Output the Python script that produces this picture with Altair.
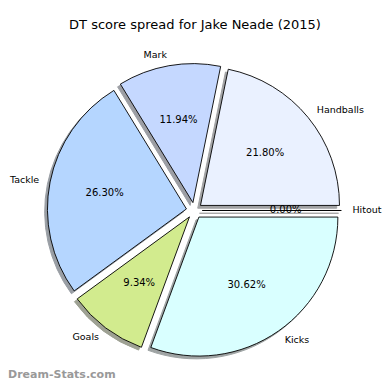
import altair as alt
import pandas as pd

# ---- data ----
categories = ["Hitout", "Handballs", "Mark", "Tackle", "Goals", "Kicks"]
values = [0.00, 21.80, 11.94, 26.30, 9.34, 30.62]
colors = ["#ffffff", "#eaf1ff", "#c5d8ff", "#b5d6ff", "#d2eb8e", "#d9ffff"]
title_text = "DT score spread for Jake Neade (2015)"
watermark = "Dream-Stats.com"


def darken(h, f=0.3):
    h = h.lstrip("#")
    r, g, b = (int(h[i:i + 2], 16) for i in (0, 2, 4))
    return "#%02x%02x%02x" % (int(r * f), int(g * f), int(b * f))


shadow_colors = [darken(c) for c in colors]

df = pd.DataFrame({"stat": categories, "value": values})

PI = 3.141592653589793
EXPLODE = 0.0576
R_PX = 139
LABEL_DIST = 1.08

W, H = 374, 374
xscale = alt.Scale(domain=[-1.3403, 1.3504], nice=False, zero=False)
yscale = alt.Scale(domain=[-1.2338, 1.4568], nice=False, zero=False)

base = (
    alt.Chart(df)
    .transform_window(cum="sum(value)", frame=[None, 0])
    .transform_joinaggregate(total="sum(value)")
    .transform_calculate(
        a0=f"2*{PI}*(datum.cum - datum.value)/datum.total",
        a1=f"2*{PI}*datum.cum/datum.total",
    )
    .transform_calculate(mid="(datum.a0 + datum.a1)/2")
    .transform_calculate(
        cx=f"{EXPLODE}*cos(datum.mid)",
        cy=f"{EXPLODE}*sin(datum.mid)",
        ts=f"{PI}/2 - datum.a1",
        te=f"{PI}/2 - datum.a0",
    )
    .transform_calculate(
        sx="datum.cx - 0.02",
        sy="datum.cy - 0.02",
        lx=f"datum.cx + {LABEL_DIST}*cos(datum.mid)",
        ly=f"datum.cy + {LABEL_DIST}*sin(datum.mid)",
        px="datum.cx + 0.6*cos(datum.mid)",
        py="datum.cy + 0.6*sin(datum.mid)",
        pct="format(100*datum.value/datum.total, '.2f') + '%'",
        side="cos(datum.mid) > 0.0001 || datum.value == 0 ? 'L' : 'R'",
    )
)

shadows = base.mark_arc(opacity=0.5, strokeWidth=1, strokeOpacity=1).encode(
    x=alt.X("sx:Q", scale=xscale, axis=None),
    y=alt.Y("sy:Q", scale=yscale, axis=None),
    theta=alt.Theta("ts:Q", scale=None, stack=None),
    theta2=alt.Theta2("te:Q"),
    radius=alt.value(R_PX),
    fill=alt.Fill("stat:N", scale=alt.Scale(domain=categories, range=shadow_colors), legend=None),
    stroke=alt.Stroke("stat:N", scale=alt.Scale(domain=categories, range=shadow_colors), legend=None),
)

wedges = base.mark_arc(stroke="black", strokeWidth=0.9).encode(
    x=alt.X("cx:Q", scale=xscale, axis=None),
    y=alt.Y("cy:Q", scale=yscale, axis=None),
    theta=alt.Theta("ts:Q", scale=None, stack=None),
    theta2=alt.Theta2("te:Q"),
    radius=alt.value(R_PX),
    color=alt.Color("stat:N", scale=alt.Scale(domain=categories, range=colors), legend=None),
)

name_font = dict(font="DejaVu Sans", fontSize=9.5, color="black", baseline="middle")
pct_font = dict(font="DejaVu Sans", fontSize=10, color="black", baseline="middle")

labels_left = base.transform_filter("datum.side == 'L'").mark_text(align="left", **name_font).encode(
    x=alt.X("lx:Q", scale=xscale, axis=None),
    y=alt.Y("ly:Q", scale=yscale, axis=None),
    text="stat:N",
)
labels_right = base.transform_filter("datum.side == 'R'").mark_text(align="right", **name_font).encode(
    x=alt.X("lx:Q", scale=xscale, axis=None),
    y=alt.Y("ly:Q", scale=yscale, axis=None),
    text="stat:N",
)
pcts = base.mark_text(align="center", **pct_font).encode(
    x=alt.X("px:Q", scale=xscale, axis=None),
    y=alt.Y("py:Q", scale=yscale, axis=None),
    text="pct:N",
)

title = alt.Chart(pd.DataFrame({"t": [title_text]})).mark_text(
    font="DejaVu Sans", fontSize=13, color="black", align="center", baseline="middle"
).encode(x=alt.value(187), y=alt.value(17), text="t:N")

wm = alt.Chart(pd.DataFrame({"t": [watermark]})).mark_text(
    font="DejaVu Sans", fontSize=11, fontWeight="bold", color="#999999", align="left", baseline="middle"
).encode(x=alt.value(0), y=alt.value(367), text="t:N")

chart = (
    alt.layer(shadows, wedges, labels_left, labels_right, pcts, title, wm)
    .properties(width=W, height=H, padding=0, autosize=alt.AutoSizeParams(type="none"))
    .configure_view(stroke=None)
)

chart.save("out.html", embed_options={"renderer": "svg", "actions": False})
